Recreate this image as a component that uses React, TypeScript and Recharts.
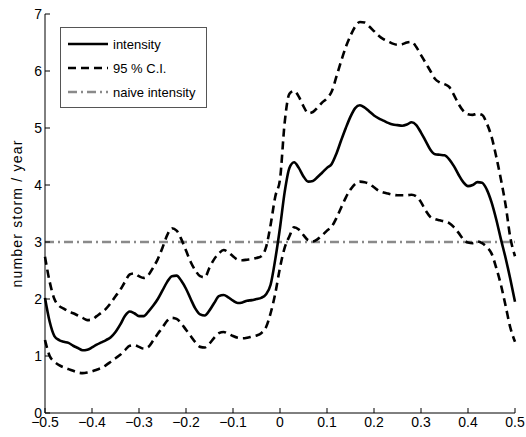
import React from "react";
import { LineChart, Line, XAxis, YAxis, Legend, ReferenceLine } from "recharts";

// Smoothed storm intensity vs. x, with 95% band and a flat "naive" level.
// Values on a 0.01 grid from -0.5 to 0.5.

const X_START = -0.5;
const X_STEP = 0.01;

const intensity = [
  2.02, 1.6, 1.35, 1.28, 1.25, 1.23, 1.18, 1.14, 1.1, 1.11,
  1.15, 1.2, 1.24, 1.28, 1.33, 1.42, 1.55, 1.7, 1.78, 1.75,
  1.7, 1.7, 1.78, 1.88, 2.0, 2.15, 2.3, 2.4, 2.41, 2.32,
  2.18, 2.0, 1.83, 1.73, 1.71, 1.8, 1.93, 2.05, 2.07, 2.03,
  1.97, 1.93, 1.94, 1.97, 1.98, 2.0, 2.02, 2.08, 2.25, 2.7,
  3.25, 3.88, 4.3, 4.4, 4.3, 4.15, 4.06, 4.07, 4.14, 4.22,
  4.3, 4.37, 4.55, 4.78, 5.0, 5.2, 5.35, 5.4, 5.36, 5.29,
  5.22, 5.17, 5.13, 5.09, 5.06, 5.05, 5.04, 5.06, 5.1, 5.05,
  4.92, 4.77, 4.62, 4.54, 4.53, 4.52, 4.45, 4.33, 4.18, 4.05,
  3.98, 4.0, 4.05, 4.04, 3.92, 3.7, 3.4, 3.05, 2.72, 2.35,
  1.95,
];

const ciUpper = [
  2.74, 2.3, 2.0, 1.88, 1.83, 1.78, 1.75, 1.71, 1.67, 1.63,
  1.64, 1.7, 1.76, 1.83, 1.93, 2.05, 2.16, 2.3, 2.43, 2.45,
  2.4, 2.37, 2.42, 2.55, 2.7, 2.9, 3.12, 3.24, 3.2, 3.05,
  2.85, 2.65, 2.5, 2.4, 2.38, 2.55, 2.7, 2.8, 2.86, 2.82,
  2.75, 2.69, 2.68, 2.69, 2.7, 2.72, 2.75, 2.9, 3.3, 3.8,
  4.1, 5.1, 5.6, 5.65, 5.55, 5.38, 5.26, 5.28, 5.36, 5.45,
  5.52, 5.64, 5.9, 6.17, 6.42, 6.62, 6.78, 6.86, 6.85, 6.78,
  6.7, 6.62, 6.56, 6.52, 6.48, 6.46, 6.47, 6.5, 6.51, 6.42,
  6.28, 6.14, 6.0, 5.86, 5.8, 5.77, 5.72, 5.58, 5.42, 5.3,
  5.24, 5.23, 5.25, 5.23, 5.08, 4.85, 4.5, 4.1, 3.65, 3.08,
  2.75,
];

const ciLower = [
  1.28, 1.0, 0.9, 0.84, 0.8, 0.77, 0.74, 0.71, 0.7, 0.71,
  0.73, 0.76, 0.79, 0.84, 0.9, 0.96, 1.02, 1.1, 1.18, 1.19,
  1.16, 1.13, 1.16, 1.27, 1.39, 1.5, 1.62, 1.67, 1.65, 1.57,
  1.46, 1.35, 1.24, 1.16, 1.15, 1.22, 1.32, 1.4, 1.42, 1.39,
  1.35, 1.32, 1.31, 1.32, 1.34, 1.36, 1.4, 1.5, 1.75, 2.1,
  2.55, 2.9, 3.1, 3.26, 3.22, 3.12, 3.03, 3.01, 3.05, 3.12,
  3.2, 3.27, 3.42, 3.6, 3.78, 3.92, 4.02, 4.06, 4.05, 4.02,
  3.96, 3.9, 3.87, 3.85, 3.83, 3.82, 3.82, 3.82, 3.83, 3.8,
  3.7, 3.55, 3.44, 3.4, 3.38, 3.36, 3.33, 3.26, 3.16, 3.05,
  2.99, 2.98, 3.01, 2.98, 2.91, 2.8, 2.55, 2.25, 1.88, 1.5,
  1.25,
];

const naiveIntensity = 3;

const xTicks = [-0.5, -0.4, -0.3, -0.2, -0.1, 0, 0.1, 0.2, 0.3, 0.4, 0.5];
const yTicks = [0, 1, 2, 3, 4, 5, 6, 7];

const legendNames = ["intensity", "95 % C.I.", "naive intensity"];

const data = intensity.map((v, i) => ({
  x: Math.round((X_START + i * X_STEP) * 100) / 100,
  intensity: v,
  upper: ciUpper[i],
  lower: ciLower[i],
}));

const FONT = "'Liberation Sans', Arial, Helvetica, sans-serif";
const GRAY = "#8a8a8a";
const DASH = "8 5";
const DASH_DOT = "9 4 2 4";

const legendStyle: Record<string, { color: string; dash?: string }> = {
  intensity: { color: "#000" },
  "95 % C.I.": { color: "#000", dash: DASH },
  "naive intensity": { color: GRAY, dash: DASH_DOT },
};

function fmtX(v: number) {
  if (Math.abs(v) < 1e-9) return "0";
  const s = Math.abs(v).toFixed(1);
  return v < 0 ? "\u2212" + s : s;
}

function LegendBox() {
  return (
    <div
      style={{
        border: "1px solid #555",
        background: "#fff",
        padding: "4px 0 3px 7px",
        fontFamily: FONT,
        fontSize: 13,
        color: "#000",
        boxSizing: "border-box",
        width: 147,
      }}
    >
      {legendNames.map((name) => {
        const st = legendStyle[name];
        return (
          <div key={name} style={{ display: "flex", alignItems: "center", height: 24 }}>
            <svg width={40} height={6} style={{ marginRight: 5 }}>
              <line
                x1={0}
                x2={40}
                y1={3}
                y2={3}
                stroke={st.color}
                strokeWidth={2.6}
                strokeDasharray={st.dash}
              />
            </svg>
            <span>{name}</span>
          </div>
        );
      })}
    </div>
  );
}

export default function App() {
  const tickStyle = { fill: "#000", fontSize: 14, fontFamily: FONT };
  // fixed so the page never scrolls (body margin would otherwise push it over)
  return (
    <div style={{ position: "fixed", left: 0, top: 0, width: 526, height: 437, background: "#fff" }}>
      <LineChart
        width={526}
        height={437}
        data={data}
        margin={{ top: 14, right: 11, bottom: 0, left: 8 }}
      >
        <XAxis
          dataKey="x"
          type="number"
          domain={[-0.5, 0.5]}
          ticks={xTicks}
          interval={0}
          tickFormatter={fmtX}
          height={24}
          tickSize={-5}
          tickMargin={9}
          tick={tickStyle}
          axisLine={{ stroke: "#000" }}
          tickLine={{ stroke: "#000" }}
        />
        <XAxis
          xAxisId="top"
          dataKey="x"
          type="number"
          orientation="top"
          domain={[-0.5, 0.5]}
          ticks={xTicks}
          interval={0}
          tickFormatter={() => ""}
          height={0}
          tickSize={-5}
          axisLine={{ stroke: "#444" }}
          tickLine={{ stroke: "#444" }}
        />
        <YAxis
          type="number"
          domain={[0, 7]}
          ticks={yTicks}
          interval={0}
          width={37}
          tickSize={-5}
          tickMargin={8}
          tick={tickStyle}
          axisLine={{ stroke: "#000" }}
          tickLine={{ stroke: "#000" }}
          label={{
            value: "number storm / year",
            angle: -90,
            position: "center",
            dx: -9,
            style: { fill: "#000", fontSize: 14, fontFamily: FONT, letterSpacing: 1.2 },
          }}
        />
        <YAxis
          yAxisId="right"
          orientation="right"
          type="number"
          domain={[0, 7]}
          ticks={yTicks}
          interval={0}
          width={0}
          tickSize={-5}
          tickFormatter={() => ""}
          axisLine={{ stroke: "#444" }}
          tickLine={{ stroke: "#444" }}
        />
        <ReferenceLine
          y={naiveIntensity}
          stroke={GRAY}
          strokeWidth={2.6}
          strokeDasharray={DASH_DOT}
        />
        <Line
          dataKey="upper"
          name="95 % C.I."
          type="monotone"
          stroke="#000"
          strokeWidth={2.6}
          strokeDasharray={DASH}
          dot={false}
          activeDot={false}
          isAnimationActive={false}
        />
        <Line
          dataKey="lower"
          name="95 % C.I. lower"
          type="monotone"
          stroke="#000"
          strokeWidth={2.6}
          strokeDasharray={DASH}
          dot={false}
          activeDot={false}
          isAnimationActive={false}
        />
        <Line
          dataKey="intensity"
          name="intensity"
          type="monotone"
          stroke="#000"
          strokeWidth={2.6}
          dot={false}
          activeDot={false}
          isAnimationActive={false}
        />
        <Legend
          layout="vertical"
          align="center"
          verticalAlign="middle"
          content={() => <LegendBox />}
          wrapperStyle={{ left: 60, top: 27, width: 147, height: "auto" }}
        />
      </LineChart>
    </div>
  );
}
